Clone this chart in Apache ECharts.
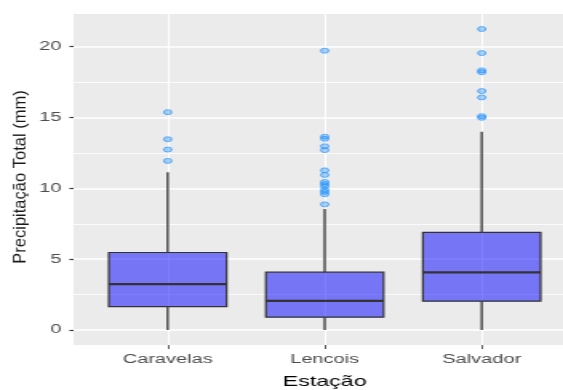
<!DOCTYPE html>
<html><head><meta charset="utf-8">
<script src="https://cdn.jsdelivr.net/npm/echarts@6/dist/echarts.min.js"></script>
<style>
html,body{margin:0;padding:0;background:#fff;overflow:hidden;}
#chart{width:352px;height:390px;transform:scaleX(1.59943);transform-origin:0 0;}
</style></head><body><div id="chart"></div>
<script>
const categories = ['Caravelas', 'Lencois', 'Salvador'];
const whiskerLow = [0, 0, 0];
const q1 = [1.65, 0.9, 2.03];
const median = [3.23, 2.05, 4.06];
const q3 = [5.47, 4.08, 6.89];
const whiskerHigh = [11.13, 8.54, 13.99];
const outliersCaravelas = [15.38, 13.47, 12.74, 11.94];
const outliersLencois = [19.72, 13.65, 13.5, 12.97, 12.7, 11.27, 10.95, 10.45, 10.3, 10.15, 9.9, 9.75, 9.58, 8.87];
const outliersSalvador = [21.25, 19.55, 18.33, 18.2, 16.87, 16.42, 15.1, 14.98];
const yTicks = [0, 5, 10, 15, 20];
const yMinorTicks = [2.5, 7.5, 12.5, 17.5];
const xTicks = [0, 1, 2];

const S = 563 / 352;
const FONT = '"Liberation Sans", Arial, sans-serif';
const chart = echarts.init(document.getElementById('chart'), null, { renderer: 'canvas' });

const allOutliers = [outliersCaravelas, outliersLencois, outliersSalvador];
const dataMax = Math.max(...whiskerHigh, ...allOutliers.flat());
const dataMin = Math.min(...whiskerLow);
const span = dataMax - dataMin;
const yMin = dataMin - 0.05 * span;
const yMax = dataMax + 0.05 * span;

const boxData = categories.map((c, i) => [i, whiskerLow[i], q1[i], median[i], q3[i], whiskerHigh[i]]);
const outlierData = [];
allOutliers.forEach((arr, i) => arr.forEach(v => outlierData.push([i, v])));

function renderBox(params, api) {
  const i = api.value(0);
  const low = api.coord([i, api.value(1)]);
  const b1 = api.coord([i, api.value(2)]);
  const md = api.coord([i, api.value(3)]);
  const b3 = api.coord([i, api.value(4)]);
  const high = api.coord([i, api.value(5)]);
  const w = api.size([0.75, 0])[0];
  const x0 = low[0] - w / 2;
  const ws = { stroke: '#383838', lineWidth: 1.35 };
  return {
    type: 'group',
    children: [
      { type: 'line', shape: { x1: low[0], y1: low[1], x2: b1[0], y2: b1[1] }, style: ws },
      { type: 'line', shape: { x1: b3[0], y1: b3[1], x2: high[0], y2: high[1] }, style: ws },
      { type: 'rect', shape: { x: x0, y: b3[1], width: w, height: b1[1] - b3[1] },
        style: { fill: 'rgba(0,0,255,0.5)', stroke: '#333333', lineWidth: 1.2 } },
      { type: 'line', shape: { x1: x0, y1: md[1], x2: x0 + w, y2: md[1] },
        style: { stroke: '#333333', lineWidth: 2.2 } }
    ]
  };
}

chart.setOption({
  animation: false,
  grid: { left: 73.5 / S, top: 14, width: (575.9 - 73.5) / S, height: 331,
          outerBoundsMode: 'none', containLabel: false,
          show: true, backgroundColor: '#EBEBEB', borderWidth: 0 },
  xAxis: {
    type: 'value', min: -0.6, max: 2.6, position: 'bottom',
    axisLine: { show: false, onZero: false },
    axisTick: { show: true, customValues: xTicks, length: 4, lineStyle: { color: '#333333', width: 0.8 } },
    axisLabel: { customValues: xTicks, formatter: v => categories[Math.round(v)] || '',
                 color: '#4D4D4D', fontSize: 12.5, fontFamily: FONT, margin: 8 },
    splitLine: { show: true, lineStyle: { color: '#FFFFFF', width: 1 } },
    name: 'Estação', nameLocation: 'middle', nameGap: 29,
    nameTextStyle: { fontSize: 14.5, color: '#000000', fontFamily: FONT }
  },
  yAxis: {
    type: 'value', min: yMin, max: yMax, position: 'left',
    axisLine: { show: false, onZero: false },
    axisTick: { show: true, customValues: yTicks, length: 2.5, lineStyle: { color: '#333333', width: 1.2 } },
    axisLabel: { customValues: yTicks, color: '#4D4D4D', fontSize: 12.5, fontFamily: FONT, margin: 7.5 },
    splitLine: { show: true, lineStyle: { color: '#FFFFFF', width: 1.6 } }
  },
  graphic: [{
    type: 'text', x: 13.5, y: 177, rotation: Math.PI / 2, scaleY: 1 / S, silent: true,
    style: { text: 'Precipitação Total (mm)', fontSize: 16.5, fontFamily: FONT, fill: '#1a1a1a',
             align: 'center', verticalAlign: 'middle' }
  }],
  series: [
    {
      type: 'line', data: [], z: 1, silent: true,
      markLine: { z: 1, silent: true, symbol: ['none', 'none'], label: { show: false },
                  emphasis: { disabled: true },
                  lineStyle: { color: '#FFFFFF', width: 0.8, type: 'solid' },
                  data: yMinorTicks.map(v => ({ yAxis: v })) }
    },
    {
      type: 'custom', z: 2, silent: true, renderItem: renderBox,
      encode: { x: 0, y: [1, 2, 3, 4, 5] }, data: boxData
    },
    {
      type: 'scatter', z: 4, silent: true, data: outlierData, symbol: 'circle', symbolSize: 5,
      itemStyle: { color: 'rgba(30,144,255,0.45)', borderColor: 'rgba(30,144,255,0.8)', borderWidth: 1 }
    }
  ]
});
</script></body></html>
